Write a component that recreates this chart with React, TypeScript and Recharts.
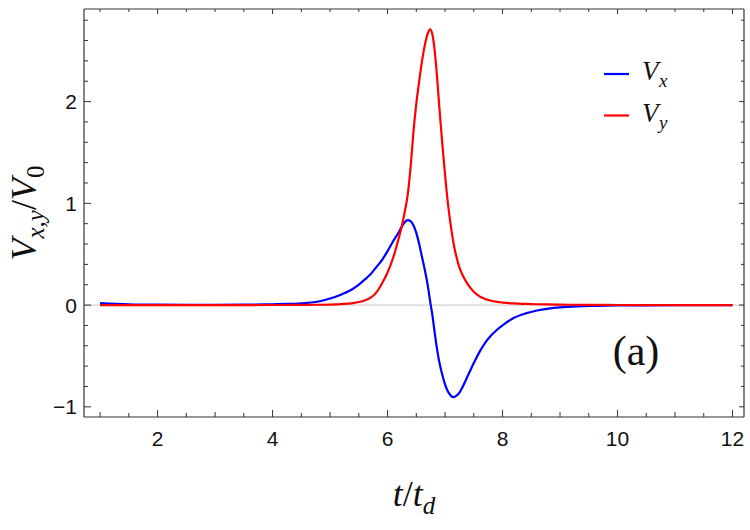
import { Label, Legend, Line, LineChart, ReferenceLine, XAxis, YAxis } from 'recharts';

// t / t_d sample points
const tValues = [
  1, 1.5, 2, 2.5, 3, 3.5, 4, 4.25, 4.5, 4.75, 5, 5.2, 5.4, 5.5, 5.6, 5.7, 5.8, 5.9, 6.0, 6.1,
  6.2, 6.25, 6.3, 6.35, 6.4, 6.45, 6.5, 6.55, 6.6, 6.65, 6.7, 6.74, 6.78, 6.82, 6.86, 6.9,
  6.95, 7.0, 7.05, 7.1, 7.15, 7.2, 7.25, 7.3, 7.4, 7.5, 7.6, 7.7, 7.8, 7.9, 8.0, 8.2, 8.4,
  8.6, 8.8, 9.0, 9.3, 9.6, 10, 10.5, 11, 11.5, 12,
];

// V_x / V_0
const vxValues = [
  0.02, 0.008, 0.004, 0.003, 0.003, 0.004, 0.008, 0.011, 0.018, 0.03, 0.065, 0.105, 0.16, 0.2,
  0.25, 0.3, 0.37, 0.44, 0.53, 0.63, 0.72, 0.775, 0.815, 0.835, 0.825, 0.785, 0.71, 0.6, 0.47,
  0.34, 0.19, 0.04, -0.1, -0.27, -0.43, -0.56, -0.68, -0.78, -0.85, -0.89, -0.905, -0.89,
  -0.86, -0.81, -0.69, -0.57, -0.46, -0.37, -0.3, -0.245, -0.2, -0.125, -0.082, -0.053,
  -0.035, -0.023, -0.013, -0.008, -0.004, -0.002, -0.001, 0, 0,
];

// V_y / V_0
const vyValues = [
  0, 0, 0, 0, 0, 0, 0.001, 0.001, 0.002, 0.003, 0.005, 0.01, 0.02, 0.03, 0.045, 0.07, 0.12,
  0.21, 0.32, 0.47, 0.67, 0.78, 0.92, 1.08, 1.35, 1.7, 1.98, 2.2, 2.4, 2.56, 2.67, 2.71, 2.66,
  2.5, 2.25, 1.95, 1.6, 1.28, 1.0, 0.78, 0.6, 0.47, 0.37, 0.3, 0.2, 0.13, 0.085, 0.06, 0.043,
  0.032, 0.025, 0.016, 0.011, 0.008, 0.006, 0.004, 0.003, 0.002, 0.001, 0, 0, 0, 0,
];

const xMajorTicks = [2, 4, 6, 8, 10, 12];
const xTicks = [
  1, 1.5, 2, 2.5, 3, 3.5, 4, 4.5, 5, 5.5, 6, 6.5, 7, 7.5, 8, 8.5, 9, 9.5, 10, 10.5, 11, 11.5, 12,
];
const yMajorTicks = [-1, 0, 1, 2];
const yTicks = [
  -1, -0.8, -0.6, -0.4, -0.2, 0, 0.2, 0.4, 0.6, 0.8, 1, 1.2, 1.4, 1.6, 1.8, 2, 2.2, 2.4, 2.6, 2.8,
];

const xDomain = [0.72, 12.2];
const yDomain = [-1.1, 2.91];

const data = tValues.map((t, i) => ({ t, vx: vxValues[i], vy: vyValues[i] }));

// layout
const W = 750;
const H = 530;
const margin = { top: 9, right: 6, bottom: 83, left: 40 };
const X_AXIS_H = 30;
const Y_AXIS_W = 44;
const plotLeft = margin.left + Y_AXIS_W;
const plotTop = margin.top;
const plotRight = W - margin.right;
const plotBottom = H - margin.bottom - X_AXIS_H;
const plotW = plotRight - plotLeft;
const plotH = plotBottom - plotTop;

// frame-only helpers for the mirrored top / right ticks
const frameX = (v: number) => plotLeft + ((v - xDomain[0]) / (xDomain[1] - xDomain[0])) * plotW;
const frameY = (v: number) => plotTop + ((yDomain[1] - v) / (yDomain[1] - yDomain[0])) * plotH;

const FRAME = '#333';
const SANS = 'Liberation Sans';
const SERIF = 'Liberation Serif';

const fmt = (v: number) => (v < 0 ? `\u2212${-v}` : String(v));

function BottomTick(props: any) {
  const { x, y, payload } = props;
  const v = payload.value;
  const major = xMajorTicks.includes(v);
  const len = major ? 7 : Number.isInteger(v) ? 5 : 4;
  return (
    <g>
      <line x1={x} x2={x} y1={y} y2={y - len} stroke={FRAME} strokeWidth={1} />
      {major && (
        <text x={x} y={y + 29} textAnchor="middle" fontFamily={SANS} fontSize={21} fill="#111">
          {fmt(v)}
        </text>
      )}
    </g>
  );
}

function LeftTick(props: any) {
  const { x, y, payload } = props;
  const v = payload.value;
  const major = yMajorTicks.includes(v);
  return (
    <g>
      <line x1={x} x2={x + (major ? 7 : 4)} y1={y} y2={y} stroke={FRAME} strokeWidth={1} />
      {major && (
        <text x={x - 7} y={y + 7.5} textAnchor="end" fontFamily={SANS} fontSize={21} fill="#111">
          {fmt(v)}
        </text>
      )}
    </g>
  );
}

function renderXLabel(props: any) {
  const { x, y, width } = props.viewBox;
  return (
    <text x={x + width / 2} y={y + 89} textAnchor="middle" fontFamily={SERIF} fontSize={36} fill="#111">
      <tspan fontStyle="italic">t</tspan>
      <tspan>/</tspan>
      <tspan fontStyle="italic">t</tspan>
      <tspan fontStyle="italic" fontSize={25} dy={8}>d</tspan>
    </text>
  );
}

function renderYLabel(props: any) {
  const { y, height } = props.viewBox;
  const cx = 36;
  const cy = y + height / 2;
  return (
    <text
      x={cx}
      y={cy}
      transform={`rotate(-90, ${cx}, ${cy})`}
      textAnchor="middle"
      fontFamily={SERIF}
      fontSize={36}
      fill="#111"
    >
      <tspan fontStyle="italic">V</tspan>
      <tspan fontStyle="italic" fontSize={25} dy={8}>x,y</tspan>
      <tspan dy={-8}>/</tspan>
      <tspan fontStyle="italic">V</tspan>
      <tspan fontSize={25} dy={8}>0</tspan>
    </text>
  );
}

function renderLegend(props: any) {
  const entries = props.payload || [];
  return (
    <svg width={130} height={90}>
      {entries.map((entry: any, i: number) => {
        const [base, sub] = String(entry.value).split('_');
        const ly = 20 + i * 41.5;
        return (
          <g key={entry.value}>
            <line x1={0} x2={25} y1={ly} y2={ly} stroke={entry.color} strokeWidth={2.2} />
            <text x={38} y={ly + 6} fontFamily={SERIF} fontStyle="italic" fontSize={27} fill="#111">
              {base}
            </text>
            <text x={55} y={ly + 13} fontFamily={SERIF} fontStyle="italic" fontSize={19} fill="#111">
              {sub}
            </text>
          </g>
        );
      })}
    </svg>
  );
}

export default function App() {
  return (
    <div style={{ position: 'fixed', left: 0, top: 0, width: W, height: H, background: '#fff' }}>
      <LineChart width={W} height={H} data={data} margin={margin}>
        <XAxis
          xAxisId="b"
          dataKey="t"
          type="number"
          domain={xDomain}
          allowDataOverflow
          ticks={xTicks}
          interval={0}
          tickLine={false}
          tickSize={0}
          tickMargin={0}
          height={X_AXIS_H}
          axisLine={{ stroke: FRAME, strokeWidth: 1.2 }}
          tick={BottomTick}
        >
          <Label content={renderXLabel} />
        </XAxis>
        <YAxis
          yAxisId="l"
          type="number"
          domain={yDomain}
          allowDataOverflow
          ticks={yTicks}
          interval={0}
          tickLine={false}
          tickSize={0}
          tickMargin={0}
          width={Y_AXIS_W}
          axisLine={{ stroke: FRAME, strokeWidth: 1.2 }}
          tick={LeftTick}
        >
          <Label content={renderYLabel} />
        </YAxis>
        <ReferenceLine xAxisId="b" yAxisId="l" y={0} stroke="#c8c8c8" strokeWidth={1} />
        <Legend
          layout="vertical"
          align="center"
          verticalAlign="middle"
          content={renderLegend}
          wrapperStyle={{ position: 'absolute', left: 604, top: 54, width: 130, height: 90 }}
        />
        <Line
          xAxisId="b"
          yAxisId="l"
          name="V_x"
          dataKey="vx"
          type="monotone"
          stroke="#0000ff"
          strokeWidth={2.2}
          dot={false}
          isAnimationActive={false}
        />
        <Line
          xAxisId="b"
          yAxisId="l"
          name="V_y"
          dataKey="vy"
          type="monotone"
          stroke="#ff0000"
          strokeWidth={2.2}
          dot={false}
          isAnimationActive={false}
        />
      </LineChart>
      <svg width={W} height={H} style={{ position: 'absolute', left: 0, top: 0, pointerEvents: 'none' }}>
        {/* top and right edges of the frame with mirrored ticks */}
        <line x1={plotLeft} x2={plotRight} y1={plotTop} y2={plotTop} stroke={FRAME} strokeWidth={1.2} />
        <line x1={plotRight} x2={plotRight} y1={plotTop} y2={plotBottom} stroke={FRAME} strokeWidth={1.2} />
        {xTicks.map((v) => (
          <line
            key={`tt${v}`}
            x1={frameX(v)}
            x2={frameX(v)}
            y1={plotTop}
            y2={plotTop + (xMajorTicks.includes(v) ? 5 : 3)}
            stroke={FRAME}
            strokeWidth={1}
          />
        ))}
        {yTicks.map((v) => (
          <line
            key={`rt${v}`}
            x1={plotRight}
            x2={plotRight - (yMajorTicks.includes(v) ? 5 : 3)}
            y1={frameY(v)}
            y2={frameY(v)}
            stroke={FRAME}
            strokeWidth={1}
          />
        ))}
        <text x={636} y={365} textAnchor="middle" fontFamily={SERIF} fontSize={42} fill="#111">
          (a)
        </text>
      </svg>
    </div>
  );
}
